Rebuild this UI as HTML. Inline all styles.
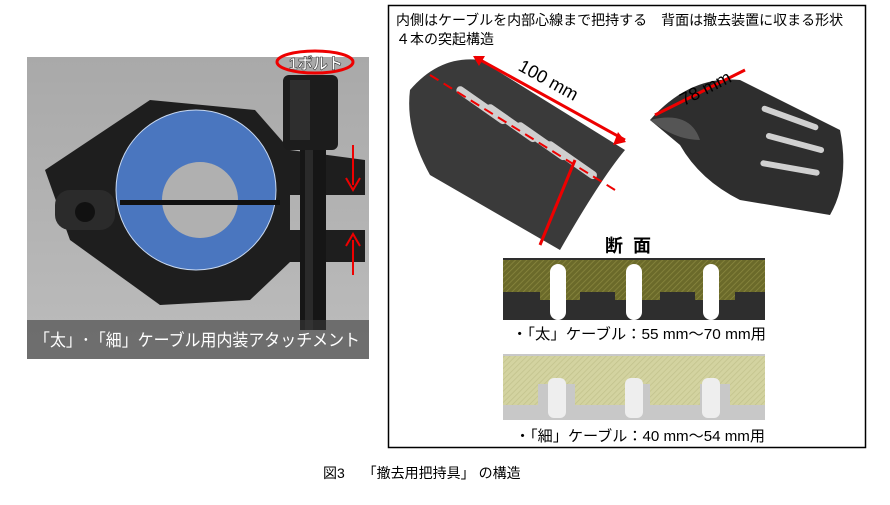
<!DOCTYPE html>
<html><head><meta charset="utf-8"><style>
body{margin:0;background:#fff;width:890px;height:500px;overflow:hidden;font-family:"Liberation Sans","Noto Sans CJK JP",sans-serif}
</style></head><body>
<svg width="890" height="500" xmlns="http://www.w3.org/2000/svg" font-family="Liberation Sans, Noto Sans CJK JP, sans-serif">
<defs>
<pattern id="h1" width="4" height="4" patternUnits="userSpaceOnUse" patternTransform="rotate(45)"><rect width="4" height="4" fill="#6b6a2a"/><line x1="0" y1="0" x2="0" y2="4" stroke="#8a8840" stroke-width="1.5"/></pattern>
<pattern id="h2" width="4" height="4" patternUnits="userSpaceOnUse" patternTransform="rotate(45)"><rect width="4" height="4" fill="#d3d3a0"/><line x1="0" y1="0" x2="0" y2="4" stroke="#c2c28c" stroke-width="1.5"/></pattern>
<linearGradient id="bg" x1="0" y1="0" x2="0" y2="1"><stop offset="0" stop-color="#a9a9a9"/><stop offset="1" stop-color="#bcbcbc"/></linearGradient>
</defs>
<rect x="27" y="57" width="342" height="302" fill="url(#bg)"/>
<path d="M45 170 L150 100 L255 110 L290 150 L365 160 L365 195 L290 195 L290 230 L365 230 L365 262 L290 262 L250 300 L160 305 L70 240 Z" fill="#1e1e1e"/>
<rect x="55" y="190" width="60" height="40" rx="15" fill="#2b2b2b"/>
<circle cx="85" cy="212" r="10" fill="#111"/>
<rect x="283" y="75" width="55" height="75" rx="6" fill="#1c1c1c"/>
<rect x="290" y="80" width="20" height="60" fill="#2e2e2e"/>
<rect x="300" y="150" width="26" height="180" fill="#161616"/>
<rect x="305" y="150" width="8" height="180" fill="#2a2a2a"/>
<circle cx="196" cy="190" r="80" fill="#4f7fd0" opacity="0.9"/>
<circle cx="196" cy="190" r="80" fill="none" stroke="#c8d8f0" stroke-width="1"/>
<circle cx="200" cy="200" r="38" fill="#b0b0b0"/>
<rect x="120" y="200" width="160" height="5" fill="#111"/>
<rect x="27" y="320" width="342" height="39" fill="#3a3a3a" opacity="0.6"/>
<text x="34" y="346" font-size="17" fill="#fff" textLength="326" lengthAdjust="spacingAndGlyphs">「太」･「細」ケーブル用内装アタッチメント</text>
<ellipse cx="315" cy="62" rx="38" ry="11" fill="none" stroke="#e00" stroke-width="3"/>
<text x="289" y="69" font-size="16" font-weight="bold" fill="#fff" stroke="#333" stroke-width="0.6" textLength="54" lengthAdjust="spacingAndGlyphs">1ボルト</text>
<line x1="353" y1="145" x2="353" y2="185" stroke="#e00" stroke-width="2"/>
<path d="M346 178 L353 190 L360 178" fill="none" stroke="#e00" stroke-width="2"/>
<line x1="353" y1="275" x2="353" y2="240" stroke="#e00" stroke-width="2"/>
<path d="M346 246 L353 234 L360 246" fill="none" stroke="#e00" stroke-width="2"/>
<rect x="388.5" y="5.5" width="477" height="442" fill="none" stroke="#000" stroke-width="1.5"/>
<text x="396" y="25" font-size="14" fill="#000">内側はケーブルを内部心線まで把持する　背面は撤去装置に収まる形状</text>
<text x="396" y="44" font-size="14" fill="#000">４本の突起構造</text>
<path d="M410 90 Q440 55 480 60 L625 150 Q600 180 560 250 L430 175 Q405 130 410 90 Z" fill="#3a3a3a"/>
<g fill="#cfcfcf"><rect x="452" y="100" width="60" height="8" rx="4" transform="rotate(35 480 104)"/><rect x="482" y="118" width="60" height="8" rx="4" transform="rotate(35 510 122)"/><rect x="512" y="136" width="60" height="8" rx="4" transform="rotate(35 540 140)"/><rect x="542" y="155" width="60" height="8" rx="4" transform="rotate(35 570 159)"/></g>
<line x1="430" y1="75" x2="615" y2="190" stroke="#e00" stroke-width="2" stroke-dasharray="10 6"/>
<line x1="475" y1="57" x2="625" y2="140" stroke="#e00" stroke-width="3"/>
<path d="M485 56 L473 56 L479 66" fill="#e00"/><path d="M613 145 L626 142 L618 132" fill="#e00"/>
<text x="515" y="82" font-size="18" fill="#000" transform="rotate(29 540 80)">100 mm</text>
<line x1="575" y1="160" x2="540" y2="245" stroke="#e00" stroke-width="3"/>
<path d="M650 120 Q690 75 740 80 L840 130 Q850 180 830 215 L740 200 Q700 180 680 145 Z" fill="#2e2e2e"/>
<path d="M650 120 Q690 110 700 140 Q675 140 650 120Z" fill="#555"/>
<g fill="#d0d0d0"><rect x="760" y="115" width="60" height="6" rx="3" transform="rotate(20 790 118)"/><rect x="765" y="140" width="60" height="6" rx="3" transform="rotate(15 795 143)"/><rect x="760" y="165" width="60" height="6" rx="3" transform="rotate(10 790 168)"/></g>
<line x1="655" y1="115" x2="745" y2="70" stroke="#e00" stroke-width="3"/>
<text x="678" y="97" font-size="18" fill="#000" transform="rotate(-27 700 90)">78 mm</text>
<text x="605" y="252" font-size="18" font-weight="bold" fill="#000" letter-spacing="10">断面</text>
<rect x="503" y="258" width="262" height="62" fill="#2e2e2e"/>
<rect x="503" y="260" width="262" height="32" fill="url(#h1)"/>
<g fill="url(#h1)"><rect x="540" y="290" width="40" height="10"/><rect x="615" y="290" width="45" height="10"/><rect x="695" y="290" width="40" height="10"/></g>
<g fill="#fff"><rect x="550" y="264" width="16" height="56" rx="8"/><rect x="626" y="264" width="16" height="56" rx="8"/><rect x="703" y="264" width="16" height="56" rx="8"/></g>
<text x="512" y="339" font-size="15" fill="#000" textLength="254" lengthAdjust="spacingAndGlyphs">・「太」ケーブル：55 mm～70 mm用</text>
<rect x="503" y="354" width="262" height="66" fill="#c8c8c8"/>
<rect x="503" y="356" width="262" height="28" fill="url(#h2)"/>
<g fill="url(#h2)"><rect x="503" y="380" width="35" height="25"/><rect x="575" y="380" width="50" height="25"/><rect x="650" y="380" width="50" height="25"/><rect x="730" y="380" width="35" height="25"/></g>
<g fill="#eee"><rect x="548" y="378" width="18" height="40" rx="6"/><rect x="625" y="378" width="18" height="40" rx="6"/><rect x="702" y="378" width="18" height="40" rx="6"/></g>
<text x="515" y="441" font-size="15" fill="#000" textLength="250" lengthAdjust="spacingAndGlyphs">・「細」ケーブル：40 mm～54 mm用</text>
<text x="323" y="478" font-size="14" fill="#000">図3　 「撤去用把持具」 の構造</text>
</svg>
</body></html>
